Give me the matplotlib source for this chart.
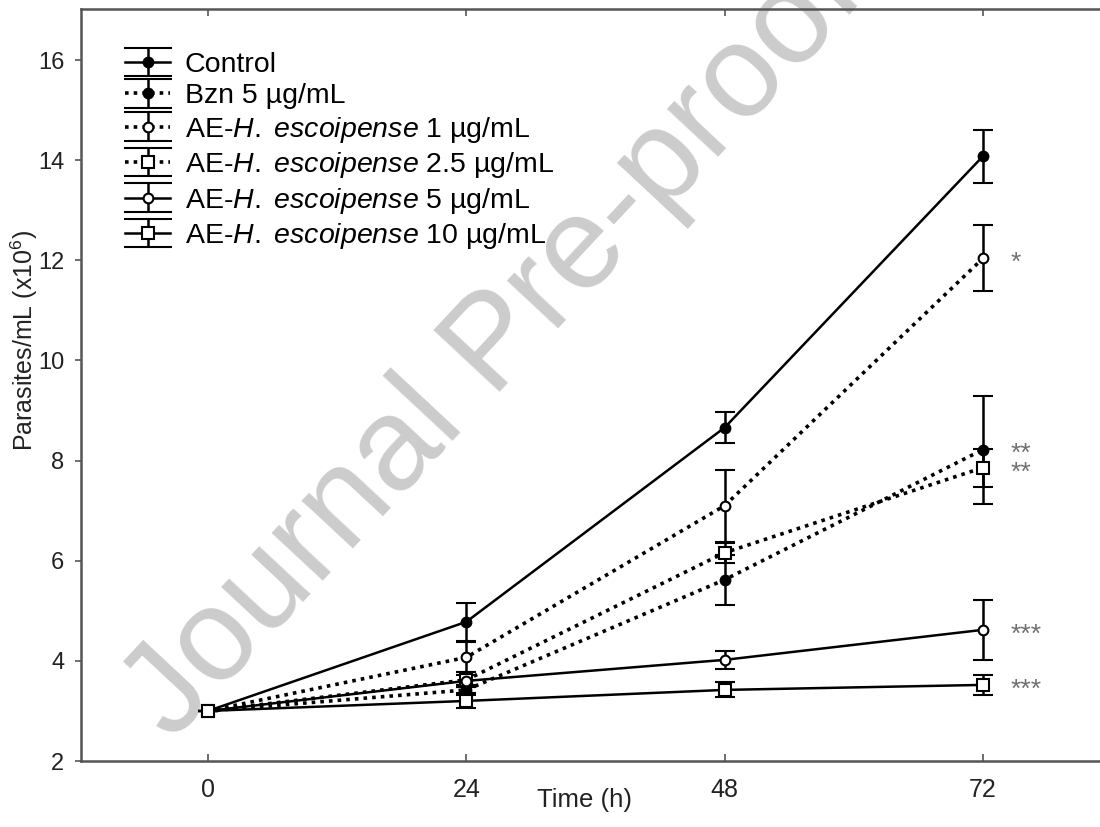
import numpy as np
import matplotlib
matplotlib.use('Agg')
import matplotlib.pyplot as plt
from matplotlib.container import ErrorbarContainer
from matplotlib.legend_handler import HandlerErrorbar
from matplotlib.lines import Line2D

plt.rcParams['font.family'] = ['Liberation Sans', 'DejaVu Sans']
plt.rcParams['mathtext.fontset'] = 'custom'
plt.rcParams['mathtext.rm'] = 'Liberation Sans'
plt.rcParams['mathtext.it'] = 'Liberation Sans:italic'

time = [0, 24, 48, 72]
control = [3.0, 4.78, 8.66, 14.08]
control_err = [0.0, 0.38, 0.31, 0.53]
bzn = [3.0, 3.42, 5.62, 8.22]
bzn_err = [0.0, 0.10, 0.50, 1.08]
ae1 = [3.0, 4.07, 7.10, 12.04]
ae1_err = [0.0, 0.30, 0.72, 0.66]
ae25 = [3.0, 3.62, 6.16, 7.86]
ae25_err = [0.0, 0.15, 0.20, 0.38]
ae5 = [3.0, 3.60, 4.02, 4.62]
ae5_err = [0.0, 0.12, 0.18, 0.60]
ae10 = [3.0, 3.20, 3.42, 3.52]
ae10_err = [0.0, 0.15, 0.15, 0.20]

labels = ['Control', 'Bzn 5 µg/mL',
          r'AE-$\mathit{H.\ escoipense}$ 1 µg/mL',
          r'AE-$\mathit{H.\ escoipense}$ 2.5 µg/mL',
          r'AE-$\mathit{H.\ escoipense}$ 5 µg/mL',
          r'AE-$\mathit{H.\ escoipense}$ 10 µg/mL']
stars = ['*', '**', '**', '***', '***']
star_y = [12.02, 8.22, 7.84, 4.60, 3.50]

fig = plt.figure(figsize=(11, 8.27), dpi=100)
ax = fig.add_axes([81/1100, 1-761/827, (1102-81)/1100, (761-9)/827])

dot = (0, (1, 1.4))
series = [
    (control, control_err, 'o', 'black', '-'),
    (bzn, bzn_err, 'o', 'black', dot),
    (ae1, ae1_err, 'o', 'white', dot),
    (ae25, ae25_err, 's', 'white', dot),
    (ae5, ae5_err, 'o', 'white', '-'),
    (ae10, ae10_err, 's', 'white', '-'),
]
handles = []
for (vals, err, mk, fc, ls), lab in zip(series, labels):
    lw = 1.8 if ls == '-' else 2.6
    ms = 8 if mk == 's' else 7
    h = ax.errorbar(time, vals, yerr=err, fmt=mk, ls=ls, lw=lw, color='black',
                    mfc=fc, mec='black', mew=1.5, ms=ms, ecolor='black',
                    elinewidth=1.8, capsize=7, capthick=2, label=lab, zorder=3)
    handles.append(h)

for s, y in zip(stars, star_y):
    ax.text(74.6, y - 0.08, s, fontsize=19, color='#707070', va='center', ha='left')

def upd(leg, orig):
    leg.update_from(orig)
    if isinstance(leg, Line2D) and orig.get_marker() == '_':
        leg.set_markersize(34)

leg = ax.legend(handles=handles, loc='upper left', bbox_to_anchor=(0.043, 0.943),
                frameon=False, fontsize=20.5, handlelength=1.6, handletextpad=0.5,
                labelspacing=0.19, borderaxespad=0, borderpad=0,
                handler_map={ErrorbarContainer: HandlerErrorbar(update_func=upd)})

ax.text(520/1100, 1-370/827, 'Journal Pre-proof', transform=fig.transFigure, fontsize=95,
        color='#cccccc', rotation=47, rotation_mode='anchor', ha='center',
        va='baseline', zorder=0.5, clip_on=False)

ax.set_xlim(-11.8, 83.06)
ax.set_ylim(2, 17.02)
ax.set_xticks(time)
ax.set_yticks([2, 4, 6, 8, 10, 12, 14, 16])
ax.tick_params(axis='x', direction='in', top=True, length=5, width=1.2, colors='#555555',
               labelcolor='#222222', labelsize=18, pad=12)
ax.tick_params(axis='y', direction='out', length=4, width=1.2, colors='#555555',
               labelcolor='#222222', labelsize=17, pad=8)
ax.set_xlabel('Time (h)', fontsize=18.5, color='#222222')
ax.xaxis.set_label_coords((584-81)/1021, -(788-761)/752, transform=ax.transAxes)
ax.set_ylabel('Parasites/mL (x10$^6$)', fontsize=18, color='#222222')
ax.yaxis.set_label_coords(-(81-40)/1021, (761-340)/752, transform=ax.transAxes)
for sp in ax.spines.values():
    sp.set_color('#555555')
    sp.set_linewidth(1.8)

fig.savefig('out.png', dpi=100)
